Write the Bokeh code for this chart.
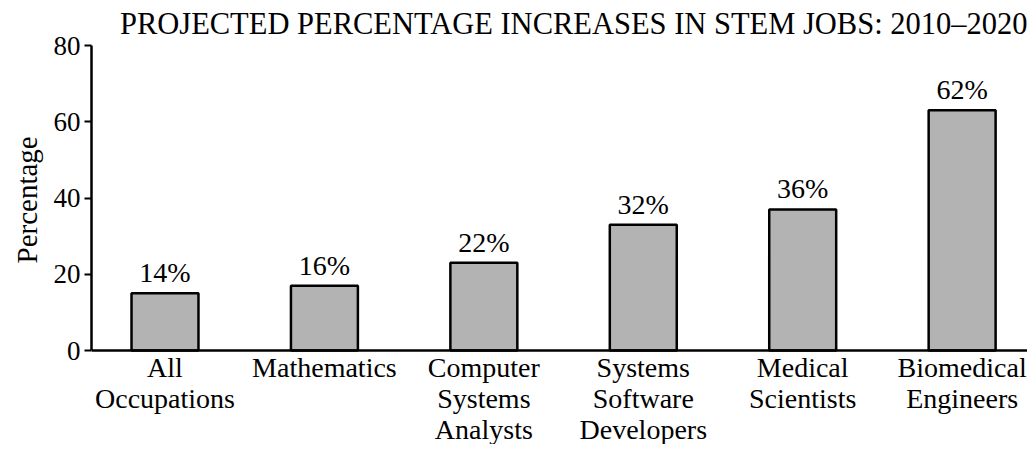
from bokeh.plotting import figure
from bokeh.models import FixedTicker, Range1d, ColumnDataSource, Span, Title
from bokeh.core.properties import value
from bokeh.embed import file_html
from bokeh.resources import INLINE

categories = ["All\nOccupations", "Mathematics", "Computer\nSystems\nAnalysts",
              "Systems\nSoftware\nDevelopers", "Medical\nScientists", "Biomedical\nEngineers"]
percent_labels = ["14%", "16%", "22%", "32%", "36%", "62%"]
bar_heights = [15, 17, 23, 33, 37, 63]
y_ticks = [0, 20, 40, 60, 80]
y_max = 80

FONT = "Liberation Serif"
xs = list(range(len(categories)))

src = ColumnDataSource(dict(x=xs, top=bar_heights, pct=percent_labels,
                            cat=categories, base=[0] * len(categories)))

# frame: 305 px for 0..80, plus 94 px below zero for the category labels
px_per_unit = 305 / y_max
p = figure(frame_width=936, frame_height=399, output_backend="svg", toolbar_location=None,
           x_range=Range1d(-0.461, 5.41), y_range=Range1d(-94 / px_per_unit, y_max),
           x_axis_location=None,
           min_border_left=0, min_border_right=0, min_border_top=0, min_border_bottom=0)

p.title.text = "PROJECTED PERCENTAGE INCREASES IN STEM JOBS: 2010\u20132020"
p.title.text_font = FONT
p.title.text_font_size = "30.5px"
p.title.text_font_style = "normal"
p.title.align = "right"
p.title.text_color = "black"
p.title.standoff = 9

p.vbar(x="x", top="top", width=0.42, bottom=0, source=src,
       fill_color="#b3b3b3", line_color="black", line_width=2.5)

p.text(x="x", y="top", text="pct", source=src, text_align="center",
       text_baseline="bottom", y_offset=-5, text_font=value(FONT),
       text_font_size="28px", text_color="black")

p.text(x="x", y="base", text="cat", source=src, text_align="center",
       text_baseline="top", y_offset=1, text_font=value(FONT),
       text_font_size="28px", text_color="black", text_line_height=1.0)

p.add_layout(Span(location=0, dimension="width", line_color="black", line_width=2.5))

p.xgrid.visible = False
p.ygrid.visible = False
p.outline_line_color = None
p.background_fill_color = "white"
p.border_fill_color = "white"

ya = p.yaxis[0]
ya.ticker = FixedTicker(ticks=y_ticks)
ya.bounds = (0, y_max)
ya.minor_tick_line_color = None
ya.major_tick_out = 7
ya.major_tick_in = 0
ya.major_tick_line_width = 2
ya.major_tick_line_color = "black"
ya.axis_line_width = 2.5
ya.axis_line_color = "black"
ya.major_label_text_font = FONT
ya.major_label_text_font_size = "27px"
ya.major_label_text_color = "black"
ya.major_label_standoff = 4

ylab = Title(text="Percentage", align="left", offset=181, standoff=16,
             text_font=FONT, text_font_size="29px", text_font_style="normal",
             text_color="black")
p.add_layout(ylab, "left")

open("out.html", "w").write(file_html(p, INLINE))
